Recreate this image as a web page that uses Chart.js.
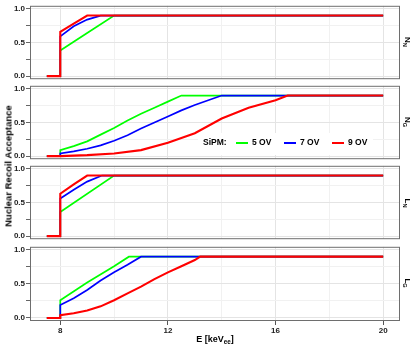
<!DOCTYPE html>
<html lang="en">
<head>
<meta charset="utf-8">
<title>Nuclear Recoil Acceptance</title>
<script src="https://cdn.jsdelivr.net/npm/chart.js@4.4.1/dist/chart.umd.min.js"></script>
<style>
    html, body { margin: 0; padding: 0; background: #fff; }
    #wrap { position: relative; width: 415px; height: 350px; overflow: hidden;
            font-family: "Liberation Sans", Arial, sans-serif; color: #000; }
    #wrap canvas { position: absolute; left: 0; }
    .ytitle { position: absolute; left: 8px; top: 166px; font-weight: bold; font-size: 9.5px;
              white-space: nowrap; transform: translate(-50%, -50%) rotate(-90deg); }
    .xtitle { position: absolute; left: 215px; top: 339px; font-weight: bold; font-size: 9px;
              white-space: nowrap; transform: translate(-50%, -50%); }
    .strip { position: absolute; left: 407px; font-weight: bold; font-size: 8px;
             white-space: nowrap; transform: translate(-50%, -50%) rotate(90deg); }
    sub { font-size: 70%; vertical-align: -2px; line-height: 0; }
</style>
</head>
<body>
<div id="wrap">
    <canvas id="panelNN" width="415" height="85" style="top:0px"></canvas>
    <canvas id="panelNG" width="415" height="85" style="top:80px"></canvas>
    <canvas id="panelLN" width="415" height="85" style="top:160px"></canvas>
    <canvas id="panelLG" width="415" height="105" style="top:241px"></canvas>

    <div class="ytitle">Nuclear Recoil Acceptance</div>
    <div class="xtitle">E [keV<sub>ee</sub>]</div>
    <div class="strip" style="top:42px">N<sub>N</sub></div>
    <div class="strip" style="top:122px">N<sub>G</sub></div>
    <div class="strip" style="top:203px">L<sub>N</sub></div>
    <div class="strip" style="top:283px">L<sub>G</sub></div>
</div>

<script type="text/javascript">

    // SiPM over-voltage settings
    const ovLabels = ["5 OV", "7 OV", "9 OV"];
    const ovColors = ["#00ff00", "#0000ff", "#ff0000"];

    const xTickLabels = [8, 12, 16, 20];
    const yTickLabels = [0, 0.5, 1];

    // N_N
    const nnE5 = [7.5, 8, 8, 9, 10, 20];
    const nnA5 = [0, 0, 0.38, 0.64, 0.9, 0.9];
    const nnE7 = [7.5, 8, 8, 8.5, 9, 9.5, 20];
    const nnA7 = [0, 0, 0.59, 0.74, 0.84, 0.9, 0.9];
    const nnE9 = [7.5, 8, 8, 8.5, 9, 20];
    const nnA9 = [0, 0, 0.66, 0.78, 0.9, 0.9];

    // N_G
    const ngE5 = [7.5, 8, 8, 8.5, 9, 9.5, 10, 10.5, 11, 11.5, 12, 12.5, 20];
    const ngA5 = [0, 0, 0.09, 0.15, 0.22, 0.32, 0.42, 0.53, 0.63, 0.72, 0.81, 0.9, 0.9];
    const ngE7 = [7.5, 8, 8, 8.5, 9, 9.5, 10, 10.5, 11, 11.5, 12, 12.5, 13, 13.5, 14, 20];
    const ngA7 = [0, 0, 0.04, 0.07, 0.11, 0.16, 0.23, 0.31, 0.41, 0.5, 0.59, 0.68, 0.76, 0.83, 0.9, 0.9];
    const ngE9 = [7.5, 8, 9, 10, 11, 12, 13, 14, 15, 16, 16.45, 20];
    const ngA9 = [0, 0, 0.015, 0.04, 0.09, 0.2, 0.34, 0.56, 0.72, 0.83, 0.9, 0.9];

    // L_N
    const lnE5 = [7.5, 8, 8, 10, 20];
    const lnA5 = [0, 0, 0.36, 0.9, 0.9];
    const lnE7 = [7.5, 8, 8, 8.5, 9, 9.55, 20];
    const lnA7 = [0, 0, 0.56, 0.69, 0.81, 0.9, 0.9];
    const lnE9 = [7.5, 8, 8, 8.5, 9, 20];
    const lnA9 = [0, 0, 0.63, 0.77, 0.9, 0.9];

    // L_G
    const lgE5 = [7.5, 8, 8, 9, 10, 10.55, 20];
    const lgA5 = [0, 0, 0.26, 0.52, 0.76, 0.9, 0.9];
    const lgE7 = [7.5, 8, 8, 8.5, 9, 9.5, 10, 10.5, 11, 20];
    const lgA7 = [0, 0, 0.19, 0.29, 0.41, 0.55, 0.67, 0.78, 0.9, 0.9];
    const lgE9 = [7.5, 8, 8, 8.5, 9, 9.5, 10, 10.5, 11, 11.5, 12, 12.5, 13, 13.2, 20];
    const lgA9 = [0, 0, 0.04, 0.07, 0.11, 0.17, 0.26, 0.36, 0.46, 0.57, 0.67, 0.76, 0.85, 0.9, 0.9];

    const panels = [
        {id: "panelNN", series: [[nnE5, nnA5], [nnE7, nnA7], [nnE9, nnA9]]},
        {id: "panelNG", series: [[ngE5, ngA5], [ngE7, ngA7], [ngE9, ngA9]], legend: true},
        {id: "panelLN", series: [[lnE5, lnA5], [lnE7, lnA7], [lnE9, lnA9]]},
        {id: "panelLG", series: [[lgE5, lgA5], [lgE7, lgA7], [lgE9, lgA9]], bottom: true}
    ];

    const FONT = "'Liberation Sans', Arial, sans-serif";

    // ggplot-like panel border + optional legend box
    const panelDecor = {
        id: "panelDecor",
        afterDraw(chart, args, opts) {
            const ctx = chart.ctx;
            const a = chart.chartArea;
            ctx.save();
            if (opts.legend) {
                ctx.fillStyle = "#ffffff";
                ctx.fillRect(198, 53, 175, 22);
                ctx.font = "bold 8.5px " + FONT;
                ctx.textBaseline = "middle";
                ctx.fillStyle = "#000";
                const ly = 63;
                ctx.fillText("SiPM:", 203, ly);
                let x = 236;
                chart.data.datasets.forEach(ds => {
                    ctx.strokeStyle = ds.borderColor;
                    ctx.lineWidth = 2;
                    ctx.beginPath();
                    ctx.moveTo(x, ly);
                    ctx.lineTo(x + 12, ly);
                    ctx.stroke();
                    ctx.fillStyle = "#000";
                    ctx.fillText(ds.label, x + 16, ly);
                    x += 48;
                });
            }
            ctx.strokeStyle = "#6e6e6e";
            ctx.lineWidth = 1;
            ctx.strokeRect(a.left + 0.5, a.top + 0.5, a.right - a.left - 1, a.bottom - a.top - 1);
            ctx.restore();
        }
    };

    panels.forEach(p => {
        const datasets = p.series.map((s, k) => ({
            label: ovLabels[k],
            data: s[0].map((e, i) => ({x: e, y: s[1][i]})),
            borderColor: ovColors[k],
            backgroundColor: ovColors[k],
            borderWidth: k === 2 ? 2.1 : 1.7,
            pointRadius: 0,
            showLine: true,
            tension: 0,
            fill: false,
            order: 2 - k   // red drawn last (on top), as in the original
        }));

        new Chart(p.id, {
            type: "scatter",
            data: {datasets: datasets},
            plugins: [panelDecor],
            options: {
                responsive: false,
                animation: false,
                devicePixelRatio: 1,
                layout: {padding: {top: 5, bottom: p.bottom ? 0 : 5, left: 0, right: 15}},
                plugins: {
                    legend: {display: false},
                    tooltip: {enabled: false},
                    panelDecor: {legend: !!p.legend}
                },
                scales: {
                    x: {
                        type: "linear",
                        min: 6.875,
                        max: 20.625,
                        afterBuildTicks: s => { s.ticks = [8, 10, 12, 14, 16, 18, 20].map(v => ({value: v})); },
                        afterFit: s => { s.height = p.bottom ? 25 : 0; },
                        border: {display: false},
                        grid: {
                            color: c => xTickLabels.includes(c.tick && c.tick.value) ? "#e4e4e4" : "#f1f1f1",
                            lineWidth: 1,
                            drawTicks: !!p.bottom,
                            tickLength: 4,
                            tickColor: c => xTickLabels.includes(c.tick && c.tick.value) ? "#555" : "rgba(0,0,0,0)"
                        },
                        ticks: {
                            display: !!p.bottom,
                            padding: 1,
                            maxRotation: 0,
                            autoSkip: false,
                            color: "#222",
                            font: {family: FONT, size: 8, weight: "bold"},
                            callback: v => xTickLabels.includes(v) ? String(v) : ""
                        }
                    },
                    y: {
                        min: -0.045,
                        max: 1.045,
                        afterBuildTicks: s => { s.ticks = [0, 0.25, 0.5, 0.75, 1].map(v => ({value: v})); },
                        afterFit: s => { s.width = 30; },
                        border: {display: false},
                        grid: {
                            color: c => yTickLabels.includes(c.tick && c.tick.value) ? "#e4e4e4" : "#f1f1f1",
                            lineWidth: 1,
                            tickLength: 4,
                            tickColor: "#666"
                        },
                        ticks: {
                            padding: 1,
                            autoSkip: false,
                            color: "#222",
                            font: {family: FONT, size: 8, weight: "bold"},
                            callback: v => yTickLabels.includes(v) ? v.toFixed(1) : ""
                        }
                    }
                }
            }
        });
    });

</script>
</body>
</html>
